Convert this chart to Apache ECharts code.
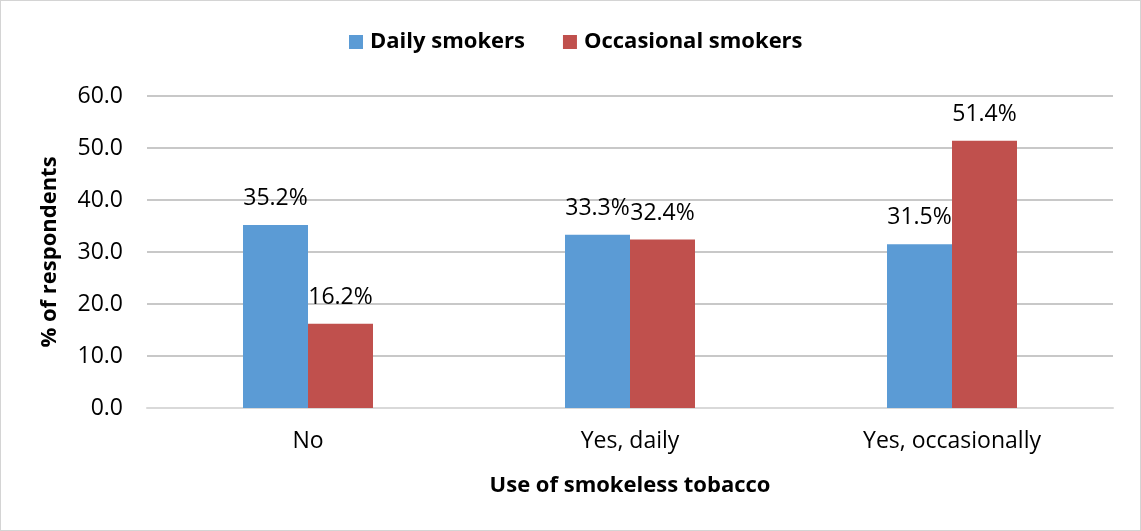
<!DOCTYPE html>
<html>
<head>
<meta charset="utf-8">
<script src="https://cdn.jsdelivr.net/npm/echarts@6/dist/echarts.min.js"></script>
<style>
  html, body { margin: 0; padding: 0; background: #fff; }
  #chart { width: 1141px; height: 531px; box-sizing: border-box; border: 1px solid #d4d4d4; }
</style>
</head>
<body>
<div id="chart"></div>
<script>
// Survey responses: smokeless tobacco use among daily vs occasional smokers
const categories = ['No', 'Yes, daily', 'Yes, occasionally'];
const dailySmokers = [35.2, 33.3, 31.5];
const occasionalSmokers = [16.2, 32.4, 51.4];
const yTicks = { min: 0, max: 60, interval: 10 };

const FONT = '"Open Sans", "Liberation Sans", sans-serif';

const chart = echarts.init(document.getElementById('chart'), null, { renderer: 'canvas' });

const valueLabel = {
  show: true,
  position: 'top',
  distance: 15,
  color: '#000',
  fontFamily: FONT,
  fontSize: 23,
  formatter: p => p.value.toFixed(1) + '%'
};

chart.setOption({
  animation: false,
  textStyle: { fontFamily: FONT },
  legend: {
    top: 25,
    left: 343,
    itemWidth: 14,
    itemHeight: 14,
    itemGap: 38,
    icon: 'rect',
    textStyle: { fontFamily: FONT, fontSize: 22, fontWeight: 'bold', color: '#000', padding: [0, 0, 0, 2] },
    data: ['Daily smokers', 'Occasional smokers']
  },
  grid: { left: 146, right: 27, top: 95, bottom: 122, containLabel: false },
  xAxis: {
    type: 'category',
    data: categories,
    name: 'Use of smokeless tobacco',
    nameLocation: 'middle',
    nameGap: 67,
    nameTextStyle: { fontFamily: FONT, fontSize: 22, fontWeight: 'bold', color: '#000' },
    axisLine: { lineStyle: { color: '#d9d9d9', width: 2 } },
    axisTick: { show: false },
    axisLabel: { fontFamily: FONT, fontSize: 23, color: '#000', margin: 22 }
  },
  yAxis: {
    type: 'value',
    min: yTicks.min,
    max: yTicks.max,
    interval: yTicks.interval,
    name: '% of respondents',
    nameLocation: 'middle',
    nameGap: 86,
    nameRotate: 90,
    nameTextStyle: { fontFamily: FONT, fontSize: 22, fontWeight: 'bold', color: '#000' },
    axisLine: { show: false },
    axisTick: { show: false },
    axisLabel: { fontFamily: FONT, fontSize: 23, color: '#000', margin: 24, formatter: v => v.toFixed(1) },
    splitLine: { lineStyle: { color: '#c8c8c8', width: 2 } }
  },
  series: [
    {
      name: 'Daily smokers',
      type: 'bar',
      data: dailySmokers,
      barWidth: 65,
      barGap: '0%',
      itemStyle: { color: '#5b9bd5' },
      label: valueLabel
    },
    {
      name: 'Occasional smokers',
      type: 'bar',
      data: occasionalSmokers,
      barWidth: 65,
      barGap: '0%',
      itemStyle: { color: '#c0504d' },
      label: valueLabel
    }
  ]
});
</script>
</body>
</html>
